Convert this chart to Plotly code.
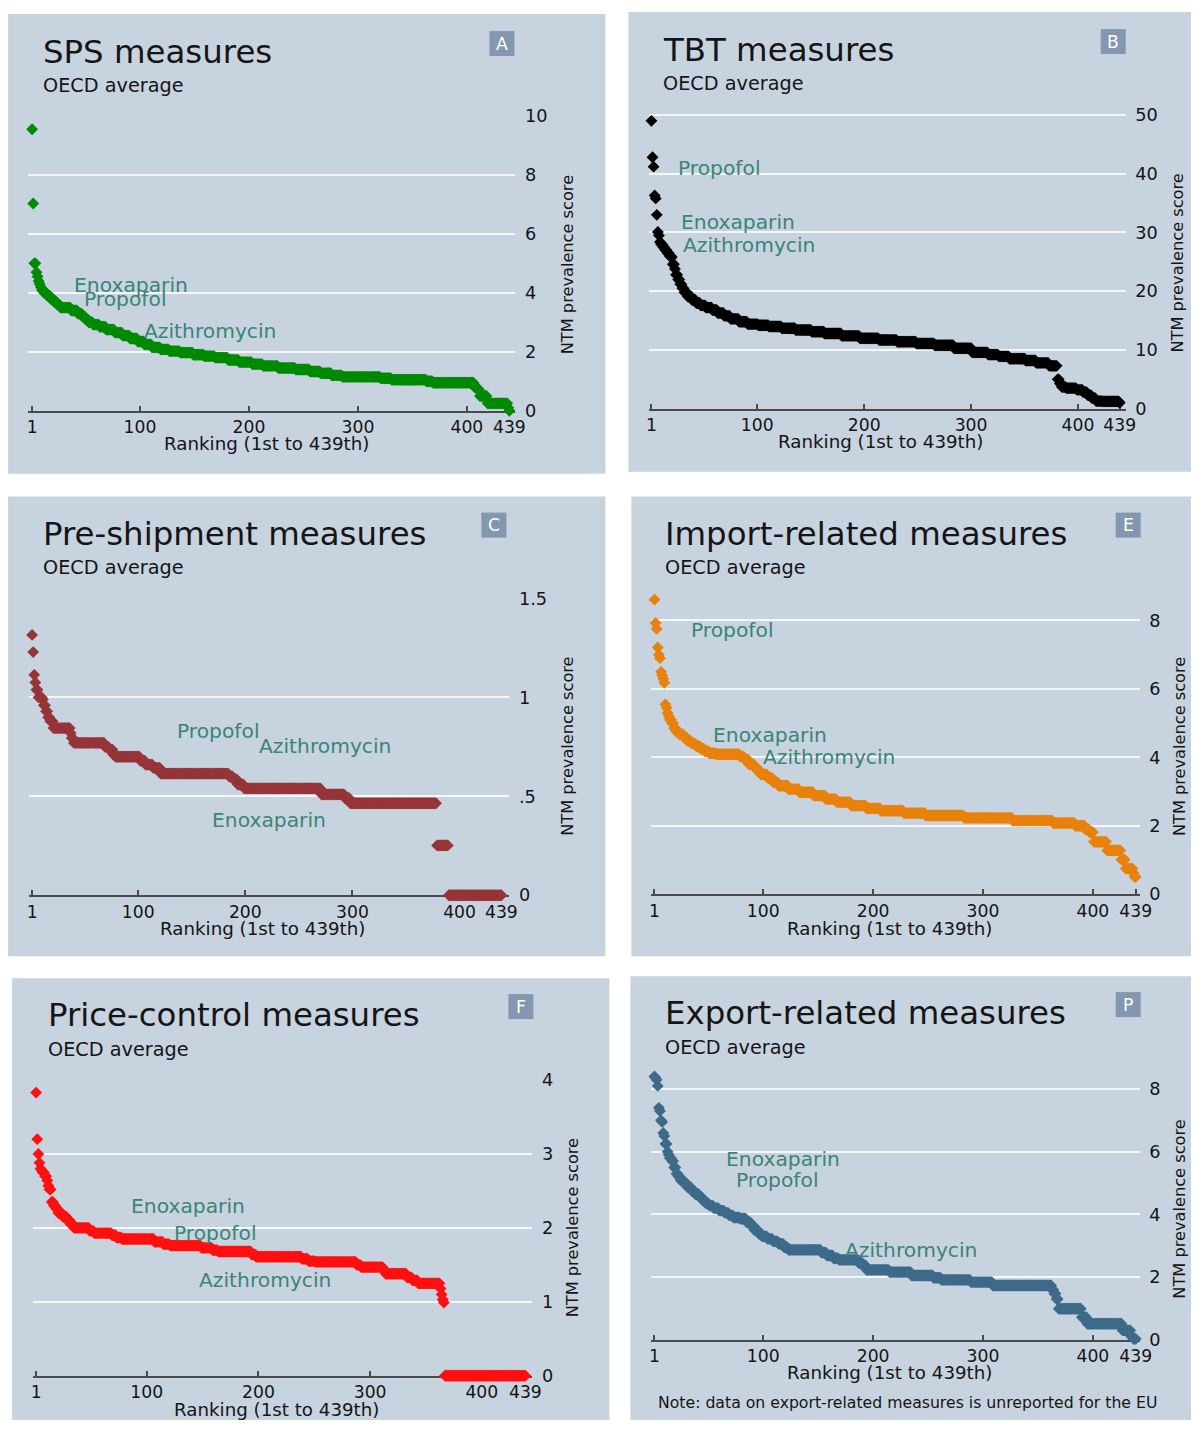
import numpy as np
import plotly.graph_objects as go

FONT = "DejaVu Sans"
W, H = 1203, 1430
# the page is shown with the default body margin and captured slightly reduced;
# layout positions below are given in final picture pixels and mapped back
BODY_MARGIN = 8
VIEW_SCALE = 0.987
X_NUDGE = 4
N_PRODUCTS = 439
RANK_TICKS = [1, 100, 200, 300, 400, 439]

# Each series is stored as step levels of the NTM prevalence score and the
# last rank (1st..439th) at which that level holds.

# SPS measures
sps_level = [9.55, 7.03, 5.0, 4.7, 4.55, 4.4, 4.3, 4.2, 4.1, 4.0,
             3.9, 3.8, 3.7, 3.6, 3.5, 3.4, 3.3, 3.2, 3.1, 3.0,
             2.92, 2.85, 2.75, 2.65, 2.55, 2.45, 2.35, 2.25, 2.15, 2.08,
             2.02, 1.97, 1.9, 1.85, 1.8, 1.72, 1.65, 1.58, 1.52, 1.45,
             1.4, 1.33, 1.27, 1.2, 1.15, 1.1, 1.05, 1.0, 0.95, 0.8,
             0.72, 0.5, 0.25, 0.1, 0.0]
sps_end = [1, 2, 4, 5, 6, 7, 8, 9, 11, 14,
           17, 20, 23, 26, 36, 42, 46, 49, 52, 56,
           62, 68, 76, 83, 90, 97, 103, 110, 118, 126,
           136, 148, 158, 168, 180, 190, 202, 212, 226, 242,
           255, 265, 275, 285, 320, 330, 362, 368, 406, 409,
           411, 418, 437, 438, 439]

# TBT measures
tbt_level = [49.0, 42.8, 41.2, 36.3, 35.8, 33.0, 30.1, 29.5, 28.4, 28.0,
             27.5, 27.0, 26.5, 26.0, 25.8, 24.6, 23.8, 22.8, 22.0, 21.2,
             20.5, 19.8, 19.1, 18.5, 18.0, 17.6, 17.2, 16.8, 16.3, 15.8,
             15.3, 14.8, 14.4, 14.2, 14.0, 13.7, 13.4, 13.1, 12.8, 12.4,
             12.0, 11.7, 11.4, 11.1, 10.8, 10.3, 9.6, 9.2, 8.9, 8.5,
             8.2, 7.8, 7.3, 5.0, 4.3, 3.7, 3.5, 3.2, 2.8, 2.3,
             1.8, 1.3, 1.25, 1.0]
tbt_end = [1, 2, 3, 4, 5, 6, 7, 8, 9, 11,
           13, 15, 17, 19, 20, 22, 23, 25, 27, 29,
           31, 34, 38, 42, 46, 51, 57, 62, 68, 74,
           82, 90, 100, 110, 122, 135, 150, 162, 178, 195,
           213, 230, 248, 265, 283, 300, 315, 325, 335, 350,
           360, 372, 380, 382, 384, 388, 398, 404, 408, 412,
           416, 422, 438, 439]

# Pre-shipment measures
pre_level = [1.316, 1.229, 1.114, 1.076, 1.039, 1.0, 0.99, 0.96, 0.93, 0.9,
             0.88, 0.845, 0.82, 0.795, 0.77, 0.75, 0.736, 0.71, 0.70, 0.68,
             0.66, 0.644, 0.615, 0.6, 0.585, 0.56, 0.54, 0.51, 0.49, 0.465,
             0.252, 0.0]
pre_end = [1, 2, 3, 4, 6, 10, 11, 13, 15, 17,
           20, 36, 37, 39, 68, 72, 76, 78, 101, 106,
           113, 120, 184, 188, 192, 198, 270, 292, 297, 378,
           389, 439]

# Import-related measures
imp_level = [8.61, 7.93, 7.76, 7.21, 7.0, 6.9, 6.5, 6.4, 6.3, 6.18,
             5.55, 5.45, 5.3, 5.2, 5.1, 5.0, 4.85, 4.75, 4.67, 4.58,
             4.48, 4.4, 4.33, 4.25, 4.18, 4.12, 4.09, 4.02, 3.94, 3.8,
             3.7, 3.6, 3.5, 3.4, 3.27, 3.17, 3.07, 2.98, 2.88, 2.78,
             2.69, 2.59, 2.51, 2.44, 2.37, 2.3, 2.23, 2.15, 2.08, 2.0,
             1.9, 1.81, 1.53, 1.28, 1.01, 0.75, 0.62, 0.51]
imp_end = [1, 2, 3, 4, 5, 6, 7, 8, 9, 10,
           11, 12, 13, 14, 16, 18, 20, 23, 27, 30,
           34, 38, 42, 46, 50, 56, 78, 82, 86, 91,
           94, 97, 103, 108, 113, 122, 132, 145, 156, 166,
           179, 193, 206, 227, 247, 282, 326, 363, 383, 392,
           396, 400, 412, 425, 429, 436, 437, 439]

# Price-control measures
price_level = [3.83, 3.2, 3.0, 2.88, 2.8, 2.78, 2.75, 2.7, 2.64, 2.57,
               2.52, 2.35, 2.3, 2.26, 2.2, 2.15, 2.1, 2.05, 2.0, 1.96,
               1.93, 1.9, 1.87, 1.85, 1.81, 1.78, 1.76, 1.73, 1.7, 1.68,
               1.64, 1.61, 1.58, 1.55, 1.54, 1.5, 1.47, 1.43, 1.38, 1.33,
               1.29, 1.25, 1.18, 1.1, 1.03, 0.99, 0.0]
price_end = [1, 2, 3, 4, 5, 6, 8, 10, 11, 12,
             14, 16, 18, 20, 24, 28, 31, 34, 48, 52,
             68, 72, 77, 106, 114, 120, 148, 158, 163, 193,
             197, 238, 244, 250, 287, 291, 311, 313, 332, 337,
             342, 362, 363, 364, 365, 366, 439]

# Export-related measures
exp_level = [8.4, 8.35, 8.3, 8.1, 7.4, 7.3, 7.0, 6.95, 6.6, 6.5,
             6.25, 6.0, 5.9, 5.8, 5.7, 5.5, 5.3, 5.2, 5.08, 5.0,
             4.87, 4.75, 4.65, 4.55, 4.44, 4.35, 4.28, 4.2, 4.12, 4.05,
             3.97, 3.9, 3.86, 3.75, 3.64, 3.5, 3.38, 3.3, 3.22, 3.14,
             3.06, 2.95, 2.87, 2.78, 2.69, 2.6, 2.55, 2.45, 2.37, 2.23,
             2.16, 2.05, 1.98, 1.91, 1.84, 1.73, 1.6, 1.47, 1.3, 0.99,
             0.72, 0.51, 0.3, 0.1, 0.03]
exp_end = [1, 2, 3, 4, 5, 6, 7, 8, 9, 10,
           12, 13, 14, 16, 18, 20, 22, 24, 27, 30,
           34, 37, 41, 44, 47, 50, 54, 59, 64, 68,
           72, 78, 84, 88, 91, 95, 98, 103, 108, 113,
           118, 122, 152, 157, 163, 168, 186, 190, 193, 214,
           234, 254, 261, 288, 308, 362, 364, 366, 368, 389,
           394, 426, 434, 436, 439]

# Y-axis ticks per panel
sps_ticks = [0, 2, 4, 6, 8, 10]
tbt_ticks = [0, 10, 20, 30, 40, 50]
pre_ticks = [0, 0.5, 1, 1.5]
pre_ticktext = ["0", ".5", "1", "1.5"]
imp_ticks = [0, 2, 4, 6, 8]
price_ticks = [0, 1, 2, 3, 4]
exp_ticks = [0, 2, 4, 6, 8]

# Product labels placed beside the curves (rank, score)
drug_names_sps = ["Enoxaparin", "Propofol", "Azithromycin"]
drug_rank_sps = [37.7, 47, 102]
drug_score_sps = [4.27, 3.8, 2.71]

drug_names_tbt = ["Propofol", "Enoxaparin", "Azithromycin"]
drug_rank_tbt = [24.4, 27.2, 29.1]
drug_score_tbt = [41.0, 31.8, 27.9]

drug_names_pre = ["Propofol", "Azithromycin", "Enoxaparin"]
drug_rank_pre = [134.6, 211.3, 167.4]
drug_score_pre = [0.828, 0.753, 0.379]

drug_names_imp = ["Propofol", "Enoxaparin", "Azithromycin"]
drug_rank_imp = [32.8, 52.8, 98.3]
drug_score_imp = [7.73, 4.66, 4.02]

drug_names_price = ["Enoxaparin", "Propofol", "Azithromycin"]
drug_rank_price = [84, 122.4, 144.8]
drug_score_price = [2.3, 1.93, 1.3]

drug_names_exp = ["Enoxaparin", "Propofol", "Azithromycin"]
drug_rank_exp = [64.6, 73.7, 172.8]
drug_score_exp = [5.76, 5.1, 2.87]


def expand(level, end):
    counts = np.diff(np.concatenate([[0], end]))
    y = np.repeat(np.asarray(level, dtype=float), counts)
    assert len(y) == N_PRODUCTS, len(y)
    return y


PANEL_BG = "#c7d3df"
BADGE_BG = "#8497b0"
LABEL_COLOR = "#3b8575"
AXIS_COLOR = "#4a4a4a"
TEXT_COLOR = "#151515"

# Layout of each panel, in picture pixels
panels = [
    dict(letter="A", title="SPS measures", color="#008a00",
         level=sps_level, end=sps_end, ticks=sps_ticks, ticktext=None,
         names=drug_names_sps, ranks=drug_rank_sps, scores=drug_score_sps,
         box=(9, 606, 12, 472), text_x=42, title_y=50, sub_y=83, badge=(490, 29),
         plot_x=(29, 516), rank_px=(33, 510), y_px=(409, 114),
         xtitle=(267, 442), ytitle=(568, 263)),
    dict(letter="B", title="TBT measures", color="#000000",
         level=tbt_level, end=tbt_end, ticks=tbt_ticks, ticktext=None,
         names=drug_names_tbt, ranks=drug_rank_tbt, scores=drug_score_tbt,
         box=(629, 1215, 10, 470), text_x=662, title_y=48, sub_y=81, badge=(1101, 27),
         plot_x=(650, 1126), rank_px=(652, 1120), y_px=(407, 113),
         xtitle=(881, 440), ytitle=(1178, 261)),
    dict(letter="C", title="Pre-shipment measures", color="#963538",
         level=pre_level, end=pre_end, ticks=pre_ticks, ticktext=pre_ticktext,
         names=drug_names_pre, ranks=drug_rank_pre, scores=drug_score_pre,
         box=(9, 606, 495, 955), text_x=42, title_y=532, sub_y=566, badge=(482, 511),
         plot_x=(30, 510), rank_px=(33, 502), y_px=(894, 597),
         xtitle=(263, 927), ytitle=(568, 745)),
    dict(letter="E", title="Import-related measures", color="#e8820c",
         level=imp_level, end=imp_end, ticks=imp_ticks, ticktext=None,
         names=drug_names_imp, ranks=drug_rank_imp, scores=drug_score_imp,
         box=(632, 1215, 495, 955), text_x=664, title_y=532, sub_y=566, badge=(1116, 511),
         plot_x=(652, 1140), rank_px=(655, 1136), y_px=(893, 619),
         xtitle=(890, 927), ytitle=(1180, 745)),
    dict(letter="F", title="Price-control measures", color="#ff1010",
         level=price_level, end=price_end, ticks=price_ticks, ticktext=None,
         names=drug_names_price, ranks=drug_rank_price, scores=drug_score_price,
         box=(13, 610, 977, 1440), text_x=47, title_y=1014, sub_y=1048, badge=(509, 993),
         plot_x=(34, 533), rank_px=(37, 526), y_px=(1375, 1079),
         xtitle=(277, 1409), ytitle=(573, 1227)),
    dict(letter="P", title="Export-related measures", color="#3e6a8a",
         level=exp_level, end=exp_end, ticks=exp_ticks, ticktext=None,
         names=drug_names_exp, ranks=drug_rank_exp, scores=drug_score_exp,
         box=(631, 1215, 975, 1440), text_x=664, title_y=1012, sub_y=1046,
         badge=(1116, 991),
         plot_x=(652, 1140), rank_px=(655, 1136), y_px=(1339, 1088),
         xtitle=(890, 1372), ytitle=(1180, 1208)),
]


def fx(px):
    v = (px + X_NUDGE) / VIEW_SCALE - BODY_MARGIN
    return min(max(v / W, 0.0), 1.0)


def fy(py):
    v = py / VIEW_SCALE - BODY_MARGIN
    return min(max(1 - v / H, 0.0), 1.0)


def fs(size):
    """font / marker size in figure units"""
    return round(size / VIEW_SCALE, 2)


fig = go.Figure()
shapes, annotations = [], []
ranks = np.arange(1, N_PRODUCTS + 1)

for i, p in enumerate(panels):
    sfx = "" if i == 0 else str(i + 1)
    xname, yname = "x" + sfx, "y" + sfx
    y = expand(p["level"], p["end"])

    fig.add_trace(go.Scatter(
        x=ranks, y=y, mode="markers", xaxis=xname, yaxis=yname,
        marker=dict(symbol="diamond", size=fs(9), color=p["color"], line=dict(width=0)),
        cliponaxis=False, showlegend=False, hoverinfo="x+y",
    ))

    L, R = p["plot_x"]
    r1, r439 = p["rank_px"]
    k = (r439 - r1) / (N_PRODUCTS - 1)
    xrange = [1 - (r1 - L) / k, N_PRODUCTS + (R - r439) / k]

    # vertical scale from the zero line and the top tick; the range is
    # stretched upward when the highest score sits above the top tick
    y0, ytop = p["y_px"]
    top_tick = p["ticks"][-1]
    px_per_unit = (y0 - ytop) / top_tick
    ymax = max(top_tick, float(y.max()) * 1.04)
    ytop_ext = y0 - ymax * px_per_unit

    fig.layout["xaxis" + sfx] = dict(
        domain=[fx(L), fx(R)], range=xrange, anchor=yname,
        showgrid=False, zeroline=False, showline=True,
        linecolor=AXIS_COLOR, linewidth=2, layer="below traces",
        ticks="inside", ticklen=5, tickwidth=1.5, tickcolor=AXIS_COLOR,
        tickvals=RANK_TICKS, ticktext=[str(v) for v in RANK_TICKS],
        tickfont=dict(family=FONT, size=fs(17), color=TEXT_COLOR),
        fixedrange=True,
    )
    fig.layout["yaxis" + sfx] = dict(
        domain=[fy(y0), fy(ytop_ext)], range=[0, ymax], anchor=xname,
        side="right", showgrid=True, gridcolor="#f4f7fa", gridwidth=1.5,
        zeroline=False, showline=False,
        ticks="outside", ticklen=5, tickcolor="rgba(0,0,0,0)",
        tickvals=p["ticks"],
        ticktext=p["ticktext"] if p["ticktext"] else [str(v) for v in p["ticks"]],
        tickfont=dict(family=FONT, size=fs(17.5), color=TEXT_COLOR),
        fixedrange=True,
    )

    bx0, bx1, by0, by1 = p["box"]
    shapes.append(dict(type="rect", xref="paper", yref="paper", layer="below",
                       x0=fx(bx0), x1=fx(bx1), y0=fy(by1), y1=fy(by0),
                       fillcolor=PANEL_BG, line=dict(width=0)))
    ax0, ay0 = p["badge"]
    shapes.append(dict(type="rect", xref="paper", yref="paper", layer="below",
                       x0=fx(ax0), x1=fx(ax0 + 25), y0=fy(ay0 + 25), y1=fy(ay0),
                       fillcolor=BADGE_BG, line=dict(width=0)))
    annotations.append(dict(text=p["letter"], xref="paper", yref="paper",
                            x=fx(ax0 + 12.5), y=fy(ay0 + 12.5), showarrow=False,
                            xanchor="center", yanchor="middle",
                            font=dict(family=FONT, size=fs(17), color="white")))

    annotations.append(dict(text=p["title"], xref="paper", yref="paper",
                            x=fx(p["text_x"]), y=fy(p["title_y"]), showarrow=False,
                            xanchor="left", yanchor="middle",
                            font=dict(family=FONT, size=fs(32), color=TEXT_COLOR)))
    annotations.append(dict(text="OECD average", xref="paper", yref="paper",
                            x=fx(p["text_x"]), y=fy(p["sub_y"]), showarrow=False,
                            xanchor="left", yanchor="middle",
                            font=dict(family=FONT, size=fs(19), color=TEXT_COLOR)))
    annotations.append(dict(text="Ranking (1st to 439th)", xref="paper", yref="paper",
                            x=fx(p["xtitle"][0]), y=fy(p["xtitle"][1]), showarrow=False,
                            xanchor="center", yanchor="middle",
                            font=dict(family=FONT, size=fs(18), color=TEXT_COLOR)))
    annotations.append(dict(text="NTM prevalence score", xref="paper", yref="paper",
                            x=fx(p["ytitle"][0]), y=fy(p["ytitle"][1]), showarrow=False,
                            textangle=-90, xanchor="center", yanchor="middle",
                            font=dict(family=FONT, size=fs(16), color=TEXT_COLOR)))

    for name, r, s in zip(p["names"], p["ranks"], p["scores"]):
        annotations.append(dict(text=name, xref=xname, yref=yname, x=r, y=s,
                                showarrow=False, xanchor="left", yanchor="middle",
                                font=dict(family=FONT, size=fs(20), color=LABEL_COLOR)))

annotations.append(dict(text="Note: data on export-related measures is unreported for the EU",
                        xref="paper", yref="paper", x=fx(908), y=fy(1402),
                        showarrow=False, xanchor="center", yanchor="middle",
                        font=dict(family=FONT, size=fs(15.5), color=TEXT_COLOR)))

fig.update_layout(
    width=W, height=H, autosize=False,
    margin=dict(l=0, r=0, t=0, b=0, pad=0),
    paper_bgcolor="white", plot_bgcolor="rgba(0,0,0,0)",
    font=dict(family=FONT, color=TEXT_COLOR),
    shapes=shapes, annotations=annotations, showlegend=False,
)

fig.write_html("out.html", include_plotlyjs=True, config={"displayModeBar": False})
